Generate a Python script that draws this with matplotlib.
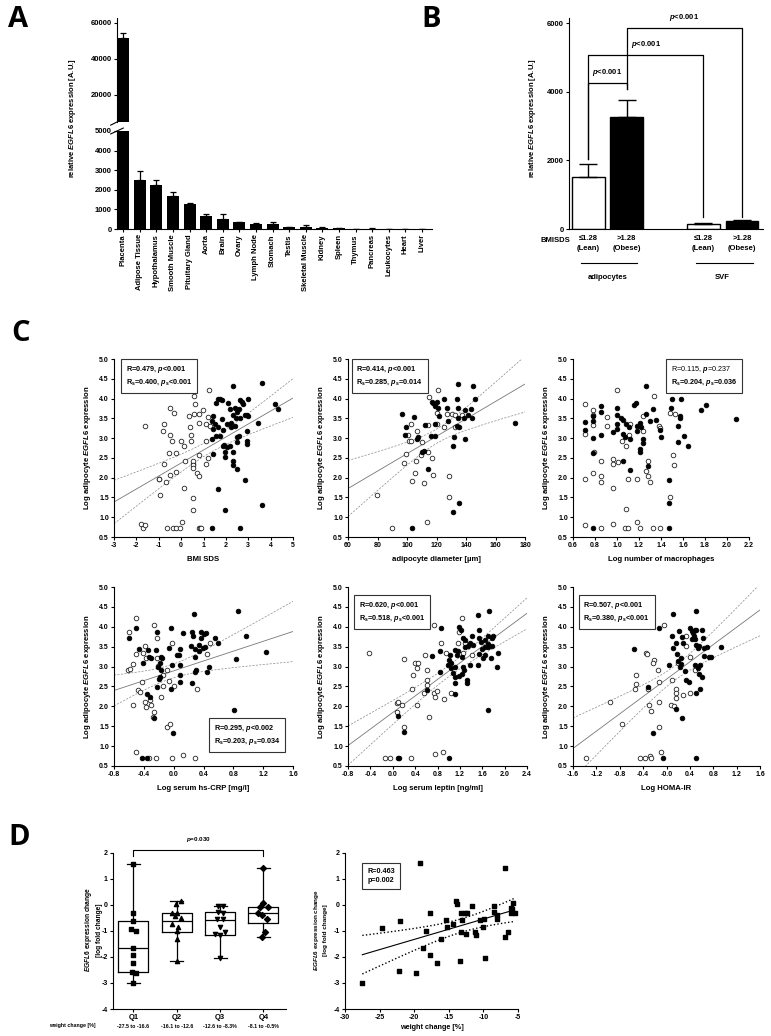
import numpy as np
import matplotlib
matplotlib.use("Agg")
import matplotlib.pyplot as plt
from matplotlib import transforms
from matplotlib.offsetbox import TextArea, VPacker, AnchoredOffsetbox

# ---------------- data ----------------
# A: tissue panel
tissues = ["Placenta", "Adipose Tissue", "Hypothalamus", "Smooth Muscle", "Pituitary Gland",
           "Aorta", "Brain", "Ovary", "Lymph Node", "Stomach", "Testis", "Skeletal Muscle",
           "Kidney", "Spleen", "Thymus", "Pancreas", "Leukocytes", "Heart", "Liver"]
tissue_expr = [51500, 2500, 2250, 1700, 1280, 680, 500, 340, 280, 230, 100, 100, 60, 30, 20, 20, 10, 5, 3]
tissue_err = [3000, 450, 250, 200, 30, 80, 280, 20, 20, 110, 10, 80, 20, 5, 5, 10, 3, 2, 1]

# B: adipocytes vs SVF
b_groups = ["adipocytes", "SVF"]
b_expr = [1520, 3270, 150, 220]
b_err = [380, 480, 30, 30]

# C: scatter plots (lean = open, obese = filled)
bmi_lean_x = [-1.63, -1.78, -1.70, -1.60, -0.78, -0.81, -0.76, -0.48, -0.33, -0.48, -0.39, -0.54, -1.01, -0.98,
              -0.96, -0.66, -0.48, -0.21, -0.25, 0.01, 0.13, 0.12, 0.06, 0.16, 0.51, 0.51, 0.54, 0.55, -0.63,
              -0.36, -0.21, -0.06, 0.34, 0.39, 0.42, 0.57, 0.64, 0.57, 0.81, 0.96, 0.79, 0.46, 0.81, 0.69, 0.81,
              0.51, 0.51, 0.80, 0.84, 0.90, 1.09, 1.09, 1.21, 1.18, 1.13, 1.25, 1.28]
bmi_lean_y = [3.31, 0.82, 0.72, 0.80, 3.35, 3.19, 2.35, 3.75, 3.63, 3.08, 2.93, 2.63, 1.97, 1.97, 1.55, 1.89,
              2.06, 2.14, 2.63, 2.93, 2.81, 1.75, 0.89, 2.41, 2.35, 2.43, 2.31, 2.25, 0.72, 0.72, 0.72, 0.72,
              3.56, 3.27, 3.08, 4.06, 3.87, 3.62, 3.60, 3.70, 3.39, 2.93, 2.58, 2.12, 2.03, 1.48, 1.18, 0.72,
              0.72, 0.72, 2.93, 2.35, 2.49, 3.54, 3.35, 4.21, 3.31]
bmi_obese_x = [2.33, 3.00, 3.45, 1.66, 1.73, 1.81, 1.58, 2.10, 2.18, 2.40, 2.63, 2.70, 2.75, 2.60, 2.50, 2.33,
               2.85, 2.96, 2.46, 2.63, 1.43, 1.36, 1.51, 1.43, 1.66, 1.85, 1.73, 1.58, 2.03, 2.21, 2.25, 2.40,
               1.81, 1.36, 1.85, 1.91, 2.03, 2.18, 1.96, 1.96, 2.30, 2.48, 2.51, 2.60, 2.93, 2.93, 2.93, 2.33,
               2.33, 2.51, 1.43, 1.66, 1.96, 2.85, 1.36, 2.63, 3.00, 3.60, 4.20, 4.32, 3.60]
bmi_obese_y = [4.33, 3.98, 3.39, 3.98, 4.00, 3.96, 3.88, 3.88, 3.73, 3.77, 3.96, 3.91, 3.85, 3.73, 3.65, 3.58,
               3.58, 3.58, 3.52, 3.52, 3.56, 3.44, 3.35, 3.23, 3.29, 3.21, 3.06, 3.06, 3.35, 3.39, 3.27, 3.31,
               3.48, 2.98, 2.81, 2.82, 2.77, 2.81, 2.64, 2.52, 2.66, 2.89, 3.02, 3.06, 2.93, 2.86, 3.19, 2.43,
               2.33, 2.22, 2.60, 1.72, 1.18, 1.93, 0.72, 0.72, 3.56, 4.40, 3.86, 3.73, 1.31]

diam_lean_x = [79.9, 89.6, 99.1, 98.0, 100.9, 101.4, 102.5, 102.7, 103.6, 105.4, 106.1, 107.0, 109.3, 109.9,
               111.5, 113.3, 114.0, 114.5, 114.9, 116.7, 117.9, 120.1, 120.6, 121.2, 125.1, 126.9, 130.3,
               132.5, 128.7, 128.5, 132.7, 137.1]
diam_lean_y = [1.57, 0.72, 2.60, 2.37, 3.08, 2.93, 2.92, 3.35, 1.91, 2.12, 2.43, 3.17, 2.58, 2.91, 1.87, 0.87,
               2.66, 3.34, 4.05, 2.50, 2.06, 3.63, 3.35, 4.21, 3.27, 3.62, 3.62, 3.58, 2.04, 1.51, 3.29, 3.58]
diam_obese_x = [96.8, 99.1, 98.6, 105.0, 107.2, 107.0, 103.2, 110.4, 111.8, 112.2, 114.5, 116.3, 119.0, 116.7,
                117.9, 119.0, 120.1, 121.2, 121.7, 119.2, 125.4, 127.0, 127.7, 131.4, 131.9, 131.0, 135.3,
                134.2, 134.5, 134.8, 134.8, 133.7, 135.3, 138.9, 139.3, 141.6, 139.6, 143.4, 144.3, 145.0,
                146.1, 173.0]
diam_obese_y = [3.60, 3.29, 3.08, 3.54, 3.02, 2.98, 0.72, 2.64, 2.68, 3.34, 2.22, 3.06, 3.06, 3.91, 3.88, 3.80,
                3.91, 3.75, 3.55, 3.35, 3.98, 3.75, 3.43, 2.81, 3.04, 1.14, 1.36, 4.00, 3.77, 4.38, 3.52, 3.31,
                3.29, 3.50, 3.71, 3.58, 2.99, 3.73, 3.50, 4.33, 3.98, 3.37]

macro_lean_x = [0.706, 0.78, 0.785, 0.78, 0.706, 0.79, 0.78, 0.706, 0.85, 0.85, 0.85, 0.91, 0.91, 0.96, 0.96,
                1.01, 0.96, 1.00, 1.045, 1.08, 1.11, 1.115, 1.08, 1.10, 1.18, 1.24, 1.24, 1.26, 1.28, 1.28,
                1.30, 1.34, 1.38, 1.39, 1.48, 1.53, 1.51, 1.52, 1.48, 0.706, 0.85, 0.96, 1.07, 1.10, 1.18,
                1.21, 1.33, 1.39]
macro_lean_y = [3.87, 3.71, 3.58, 3.34, 3.10, 2.64, 2.12, 1.97, 2.43, 2.03, 1.89, 3.54, 3.31, 2.47, 2.35, 2.39,
                1.75, 4.21, 2.92, 2.81, 3.08, 3.35, 1.20, 1.97, 1.97, 3.56, 3.17, 2.18, 2.42, 2.04, 1.89, 4.06,
                3.31, 3.25, 3.63, 3.60, 2.57, 2.33, 1.50, 0.80, 0.72, 0.82, 0.72, 0.72, 0.89, 0.72, 0.72, 0.72]
macro_obese_x = [0.706, 0.706, 0.78, 0.78, 0.78, 0.78, 0.85, 0.85, 0.85, 0.96, 1.00, 1.00, 1.00, 1.00, 1.04,
                 1.05, 1.05, 1.05, 1.07, 1.08, 1.11, 1.12, 1.12, 1.15, 1.17, 1.18, 1.18, 1.21, 1.22, 1.21, 1.21,
                 1.24, 1.24, 1.26, 1.28, 1.26, 1.30, 1.33, 1.35, 1.39, 1.40, 1.47, 1.47, 1.47, 1.49, 1.50, 1.55,
                 1.55, 1.57, 1.57, 1.58, 1.61, 1.65, 1.76, 1.81, 2.08, 0.78]
macro_obese_y = [3.41, 3.21, 3.55, 3.44, 3.00, 2.62, 3.80, 3.66, 3.08, 3.16, 3.75, 3.58, 3.35, 3.23, 3.52, 3.46,
                 2.43, 3.10, 3.04, 3.35, 3.27, 2.98, 2.20, 3.84, 3.88, 3.31, 3.19, 3.39, 3.27, 2.73, 2.66, 2.98,
                 2.88, 4.33, 2.30, 3.60, 3.44, 3.73, 3.46, 3.21, 3.02, 1.93, 1.35, 0.72, 3.75, 3.98, 2.89, 3.31,
                 3.56, 3.50, 3.98, 3.06, 2.81, 3.70, 3.84, 3.48, 0.72]

crp_lean_x = [-0.595, -0.61, -0.58, -0.54, -0.50, -0.50, -0.55, -0.48, -0.45, -0.43, -0.38, -0.37, -0.32, -0.30,
              -0.26, -0.28, -0.41, -0.38, -0.37, -0.26, -0.22, -0.23, -0.21, -0.17, -0.14, -0.14, -0.09, -0.09,
              -0.05, -0.06, 0.00, -0.02, 0.31, 0.49, 0.45, -0.50, -0.33, -0.24, -0.02, 0.12, 0.28]
crp_lean_y = [3.88, 2.92, 2.93, 3.07, 3.31, 4.22, 2.03, 2.41, 2.37, 2.62, 2.12, 1.99, 2.16, 2.03, 1.87, 1.74,
              3.34, 3.52, 3.21, 4.05, 3.71, 3.21, 3.02, 2.24, 2.50, 2.79, 2.92, 1.49, 1.55, 2.64, 2.50, 3.60,
              2.43, 3.60, 3.31, 0.85, 0.70, 0.70, 0.70, 0.78, 0.70]
crp_obese_x = [-0.595, -0.50, -0.46, -0.41, -0.35, -0.33, -0.30, -0.22, -0.24, -0.21, -0.18, -0.17, -0.16,
               -0.36, -0.32, -0.18, -0.19, -0.17, -0.23, -0.26, -0.04, -0.06, -0.02, -0.03, -0.01, 0.04, 0.07,
               0.09, 0.08, 0.08, 0.08, 0.13, 0.23, 0.25, 0.26, 0.25, 0.27, 0.29, 0.29, 0.30, 0.29, 0.34, 0.34,
               0.37, 0.37, 0.41, 0.44, 0.39, 0.42, 0.45, 0.48, 0.55, 0.59, 0.81, 0.84, 0.86, 0.97, 1.24, -0.42,
               -0.36]
crp_obese_y = [3.71, 3.97, 3.44, 3.08, 3.42, 3.25, 3.21, 3.88, 3.42, 3.00, 3.08, 3.25, 3.21, 2.30, 2.24, 2.75,
               2.68, 2.92, 2.48, 1.71, 3.98, 3.46, 3.04, 2.43, 1.34, 3.29, 3.29, 3.45, 3.04, 2.79, 2.60, 3.84,
               3.52, 3.88, 3.76, 2.58, 4.32, 3.44, 3.23, 2.92, 2.87, 3.55, 3.38, 3.71, 3.88, 3.82, 3.84, 3.46,
               3.50, 2.87, 3.00, 3.71, 3.59, 1.91, 3.18, 4.39, 3.76, 3.36, 0.70, 0.70]

lep_lean_x = [-0.42, 0.20, 0.08, 0.07, 0.10, 0.16, 0.21, 0.34, 0.37, 0.40, 0.44, 0.46, 0.44, 0.55, 0.58, 0.61,
              0.62, 0.64, 0.62, 0.73, 0.74, 0.76, 0.79, 0.86, 0.92, 0.96, 1.05, 1.18, 1.23, 1.17, 1.26, 1.29,
              1.41, -0.14, -0.05, 0.32, 0.76, 0.89]
lep_lean_y = [3.35, 3.18, 1.87, 2.09, 2.12, 2.03, 1.49, 2.43, 2.79, 3.08, 2.96, 3.08, 2.03, 2.33, 3.29, 2.54,
              2.92, 1.74, 2.67, 2.33, 4.05, 2.24, 2.39, 3.59, 2.18, 3.34, 2.33, 3.87, 4.22, 3.59, 3.34, 3.59,
              3.29, 0.70, 0.70, 0.70, 0.80, 0.86]
lep_obese_x = [0.10, 0.21, 0.62, 0.70, 0.84, 0.86, 0.84, 0.98, 1.01, 1.02, 1.05, 1.05, 1.07, 1.11, 1.14, 1.16,
               1.11, 1.11, 1.12, 1.11, 1.18, 1.22, 1.23, 1.26, 1.28, 1.23, 1.18, 1.26, 1.29, 1.29, 1.34, 1.38,
               1.41, 1.43, 1.33, 1.33, 1.38, 1.52, 1.52, 1.55, 1.57, 1.54, 1.59, 1.54, 1.62, 1.65, 1.65, 1.71,
               1.71, 1.71, 1.72, 1.77, 1.78, 1.80, 1.70, 1.65, 1.76, 1.86, 1.89, 0.09, 0.11, 1.01]
lep_obese_y = [1.76, 1.36, 2.41, 3.27, 2.87, 3.97, 3.38, 3.04, 3.17, 3.29, 3.10, 2.97, 2.85, 2.99, 3.29, 3.38,
               2.74, 2.58, 2.30, 3.42, 3.99, 3.92, 3.25, 3.00, 2.92, 2.82, 2.77, 3.71, 3.67, 3.49, 3.52, 3.59,
               3.77, 3.55, 2.65, 2.58, 3.04, 4.30, 3.04, 3.71, 3.61, 3.92, 3.44, 3.32, 3.21, 3.67, 3.50, 3.76,
               3.57, 3.50, 4.39, 3.71, 3.52, 3.76, 1.92, 3.29, 3.21, 3.00, 3.35, 0.70, 0.70, 0.70]

homa_lean_x = [-1.38, -0.96, -0.77, -0.54, -0.53, -0.53, -0.35, -0.33, -0.32, -0.30, -0.26, -0.22, -0.23, -0.15,
               -0.13, -0.13, -0.13, -0.26, -0.05, 0.10, 0.08, 0.13, 0.17, 0.17, 0.17, 0.20, 0.29, 0.34, 0.34,
               0.40, 0.40, 0.48, -0.46, -0.37, -0.29, -0.26, -0.09]
homa_lean_y = [0.71, 2.12, 1.55, 2.43, 2.56, 2.79, 3.35, 3.32, 2.43, 2.03, 1.88, 3.17, 3.10, 2.92, 2.60, 1.49,
               2.12, 4.22, 4.05, 2.65, 2.03, 2.00, 2.43, 2.33, 2.20, 3.10, 2.28, 3.76, 3.52, 3.25, 2.34, 2.92,
               0.69, 0.69, 0.75, 0.69, 0.86]
homa_obese_x = [-0.56, -0.32, -0.13, -0.23, -0.06, 0.04, 0.09, 0.11, 0.11, 0.17, 0.18, 0.20, 0.21, 0.24, 0.25,
                0.23, 0.17, 0.27, 0.27, 0.28, 0.31, 0.34, 0.38, 0.40, 0.43, 0.45, 0.48, 0.51, 0.43, 0.47, 0.48,
                0.51, 0.50, 0.54, 0.56, 0.48, 0.54, 0.56, 0.60, 0.57, 0.51, 0.57, 0.61, 0.62, 0.64, 0.65, 0.70,
                0.73, 0.77, 0.94, 0.50]
homa_obese_y = [3.45, 2.48, 3.98, 1.34, 0.69, 3.03, 3.77, 4.33, 3.46, 3.59, 3.32, 3.14, 3.90, 3.21, 3.07, 2.98,
                1.93, 1.71, 3.74, 3.59, 2.90, 2.66, 2.60, 3.97, 3.90, 3.84, 3.92, 3.91, 3.69, 3.77, 3.69, 3.55,
                4.40, 3.46, 3.52, 3.04, 2.96, 2.82, 2.75, 3.04, 2.33, 2.43, 3.91, 3.71, 3.27, 3.46, 3.49, 3.23,
                3.23, 3.50, 0.69]

# D: weight loss
quartiles = ["Q1", "Q2", "Q3", "Q4"]
quartile_ranges = ["-27.5 to -16.6", "-16.1 to -12.6", "-12.6 to -8.3%", "-8.1 to -0.5%"]
q_points = [
    [1.55, -0.32, -0.63, -0.92, -1.02, -1.67, -1.93, -2.25, -2.57, -2.62, -3.0],
    [0.14, 0.03, -0.33, -0.31, -0.44, -0.50, -0.72, -0.85, -1.0, -1.33, -2.17],
    [-0.04, -0.04, -0.27, -0.31, -0.53, -0.56, -0.85, -1.13, -1.17, -1.06, -2.06],
    [1.42, 0.08, -0.10, -0.10, -0.31, -0.40, -0.56, -1.04, -1.23],
]
q_jitter = [
    [0, 0, 0, -0.05, 0.06, 0, 0, 0, -0.04, 0.06, 0],
    [0.09, -0.01, -0.12, 0.0, -0.05, 0.09, -0.1, 0.02, 0.0, 0.0, 0.0],
    [-0.05, 0.07, -0.04, 0.07, -0.08, 0.06, 0.0, -0.12, 0.0, 0.12, 0.0],
    [0, 0, -0.09, 0.11, -0.12, -0.04, 0.08, 0.04, -0.04],
]
q_stats = [  # whislo, q1, med, q3, whishi
    (-3.0, -2.58, -1.65, -0.63, 1.55),
    (-2.17, -1.06, -0.62, -0.31, 0.14),
    (-2.06, -1.17, -0.58, -0.28, -0.04),
    (-1.23, -0.70, -0.30, -0.07, 1.42),
]
q_markers = ["s", "^", "v", "D"]
wt_change = [-27.5, -24.7, -22.0, -22.2, -19.8, -19.1, -18.8, -18.3, -17.7, -17.7, -16.7, -16.15, -15.4, -15.3,
             -14.4, -14.0, -13.8, -13.4, -13.3, -13.3, -13.1, -12.7, -12.4, -12.5, -11.6, -11.15, -11.0, -10.5,
             -9.95, -10.05, -9.7, -8.4, -8.4, -8.1, -8.0, -6.9, -6.9, -6.5, -6.05, -5.8, -5.7, -5.95, -5.5]
expr_change = [-3.0, -0.9, -0.63, -2.55, -2.62, 1.59, -1.65, -1.0, -0.31, -1.91, -2.23, -1.33, -0.59, -0.85,
               -0.74, 0.14, 0.03, -2.15, -0.33, -1.04, -0.59, -0.31, -0.33, -1.14, -0.05, -1.04, -1.17, -0.59,
               -0.53, -0.85, -2.06, -0.04, -0.28, -0.53, -0.41, 1.4, -1.23, -1.04, -0.12, -0.17, 0.06, -0.3, -0.3]

# ---------------- style ----------------
plt.rcParams.update({
    "font.family": ["Liberation Sans", "DejaVu Sans"],
    "font.weight": "bold",
    "axes.labelweight": "bold",
    "axes.unicode_minus": False,
    "mathtext.fontset": "custom",
    "mathtext.rm": "Liberation Sans:bold",
    "mathtext.bf": "Liberation Sans:bold",
    "mathtext.it": "Liberation Sans:italic:bold",
    "mathtext.sf": "Liberation Sans:italic",
    "axes.linewidth": 0.8,
    "xtick.major.width": 0.8, "ytick.major.width": 0.8,
    "xtick.major.size": 2.2, "ytick.major.size": 2.2,
    "xtick.major.pad": 1.5, "ytick.major.pad": 1.5,
    "xtick.labelsize": 5, "ytick.labelsize": 5,
})

W, H = 771, 1036
fig = plt.figure(figsize=(W / 100, H / 100), dpi=100)


def add_ax(l, t, r, b):
    ax = fig.add_axes([l / W, 1 - b / H, (r - l) / W, (b - t) / H])
    ax.spines[["top", "right"]].set_visible(False)
    return ax


def fy(py):
    return 1 - py / H


for letter, px, py in [("A", 8, 27), ("B", 421, 27), ("C", 11, 341), ("D", 8, 845)]:
    fig.text(px / W, fy(py), letter, fontsize=21, fontweight="bold", family="Open Sans", va="baseline")

# ---------------- panel A ----------------
xa = np.arange(len(tissues))
ax_top = add_ax(117, 18, 432, 122)
ax_bot = add_ax(117, 131, 432, 229)
for ax in (ax_top, ax_bot):
    ax.bar(xa, tissue_expr, width=0.72, color="black")
    ax.errorbar(xa, tissue_expr, yerr=[np.zeros(len(xa)), tissue_err], fmt="none", ecolor="black",
                elinewidth=0.9, capsize=2.2, capthick=0.9)
    ax.set_xlim(-0.37, 18.6)
ax_top.set_ylim(5000, 62700)
ax_top.set_yticks([20000, 40000, 60000])
ax_top.spines["bottom"].set_visible(False)
ax_top.set_xticks([])
ax_bot.set_ylim(0, 5000)
ax_bot.set_yticks(range(0, 5001, 1000))
ax_bot.set_xticks(xa)
ax_bot.set_xticklabels(tissues, rotation=90, fontsize=5.5)
for ax in (ax_top, ax_bot):
    ax.tick_params(labelsize=5.5)
d = 0.02
ax_top.plot([-d, d], [-0.03, 0.03], transform=ax_top.transAxes, color="black", lw=0.8, clip_on=False)
ax_bot.plot([-d, d], [0.97, 1.03], transform=ax_bot.transAxes, color="black", lw=0.8, clip_on=False)
fig.text(72 / W, fy(118), r"relative $\mathit{EGFL6}$ expression [A.U.]", rotation=90,
         fontsize=5.5, ha="center", va="center")

# ---------------- panel B ----------------
ax_b = add_ax(569, 18, 763, 229)
xb = [0, 1, 3, 4]
ax_b.bar(xb, b_expr, width=0.85, color=["white", "black", "white", "black"], edgecolor="black", linewidth=1.0)
ax_b.errorbar(xb, b_expr, yerr=[np.zeros(4), b_err], fmt="none", ecolor="black", elinewidth=1.0,
              capsize=6.5, capthick=1.0)
ax_b.set_xlim(-0.5, 4.55)
ax_b.set_ylim(0, 6150)
ax_b.set_yticks([0, 2000, 4000, 6000])
ax_b.set_xticks([])
ax_b.tick_params(labelsize=5.5)
fig.text(532 / W, fy(118), r"relative $\mathit{EGFL6}$ expression [A.U.]", rotation=90,
         fontsize=5.5, ha="center", va="center")
brackets = [(0, 1, 2050, 4260, 4080, r"$p$<0.001"),
            (0, 3, 2050, 5070, 350, r"$p$<0.001"),
            (1, 4, 4080, 5860, 350, r"$p$<0.001")]
for x0, x1, y0, ytop, y1, lab in brackets:
    ax_b.plot([x0, x0, x1, x1], [y0, ytop, ytop, y1], color="black", lw=0.9, clip_on=False)
    ax_b.text((x0 + x1) / 2, ytop + 150, lab, ha="center", va="bottom", fontsize=5.5)
tb = transforms.blended_transform_factory(ax_b.transData, fig.transFigure)
fig.text(570 / W, fy(241), "BMISDS", ha="right", va="center", fontsize=5.5)
for xi, lab in zip(xb, ["≤1.28\n(Lean)", ">1.28\n(Obese)", "≤1.28\n(Lean)", ">1.28\n(Obese)"]):
    ax_b.text(xi, fy(235), lab, transform=tb, ha="center", va="top", fontsize=5.5, linespacing=1.5)
for (x0, x1), lab in zip([(0, 1), (3, 4)], b_groups):
    ax_b.plot([x0 - 0.2, x1 + 0.28], [fy(263)] * 2, transform=tb, color="black", lw=0.8, clip_on=False)
    ax_b.text((x0 + x1) / 2, fy(277), lab, transform=tb, ha="center", va="center", fontsize=5.5)

# ---------------- panel C ----------------
def fit_band(x, y, xs, t):
    x = np.asarray(x)
    y = np.asarray(y)
    slope, icpt = np.polyfit(x, y, 1)
    yhat = icpt + slope * xs
    s = np.sqrt(np.sum((y - (icpt + slope * x)) ** 2) / (len(x) - 2))
    se = s * np.sqrt(1 / len(x) + (xs - x.mean()) ** 2 / np.sum((x - x.mean()) ** 2))
    return yhat, yhat - t * se, yhat + t * se


def stat_box(ax, lines, weights, loc, anchor):
    areas = [TextArea(t, textprops=dict(fontsize=5.2, fontweight=w)) for t, w in zip(lines, weights)]
    pack = VPacker(children=areas, align="left", pad=0, sep=1.6)
    box = AnchoredOffsetbox(loc=loc, child=pack, pad=0.35, borderpad=0, frameon=True,
                            bbox_to_anchor=anchor, bbox_transform=ax.transAxes)
    box.patch.set_linewidth(0.8)
    box.patch.set_edgecolor("#333333")
    box.patch.set_boxstyle("square,pad=0")
    ax.add_artist(box)


c_panels = [
    dict(box=(114, 359, 293, 537), lean=(bmi_lean_x, bmi_lean_y), obese=(bmi_obese_x, bmi_obese_y),
         xlim=(-3, 5), xt=np.arange(-3, 5.1, 1), fmt="%d", xlabel="BMI SDS", fit=True,
         stats=[r"R=0.479, $p$<0.001", r"R$_\mathrm{s}$=0.400, $p_\mathrm{s}$<0.001"], w=["bold", "bold"],
         loc="upper left", anchor=(0.04, 1.0)),
    dict(box=(348, 359, 525, 537), lean=(diam_lean_x, diam_lean_y), obese=(diam_obese_x, diam_obese_y),
         xlim=(60, 180), xt=np.arange(60, 181, 20), fmt="%d", xlabel="adipocyte diameter [µm]", fit=True,
         stats=[r"R=0.414, $p$<0.001", r"R$_\mathrm{s}$=0.285, $p_\mathrm{s}$=0.014"], w=["bold", "bold"],
         loc="upper left", anchor=(0.02, 1.0)),
    dict(box=(573, 359, 749, 537), lean=(macro_lean_x, macro_lean_y), obese=(macro_obese_x, macro_obese_y),
         xlim=(0.6, 2.2), xt=np.arange(0.6, 2.21, 0.2), fmt="%.1f", xlabel="Log number of macrophages",
         fit=False,
         stats=[r"R=0.115, $\mathsf{p}$=0.237", r"R$_\mathrm{s}$=0.204, $p_\mathrm{s}$=0.036"],
         w=["normal", "bold"], loc="upper right", anchor=(0.96, 1.0)),
    dict(box=(114, 587, 293, 766), lean=(crp_lean_x, crp_lean_y), obese=(crp_obese_x, crp_obese_y),
         xlim=(-0.8, 1.6), xt=np.arange(-0.8, 1.61, 0.4), fmt="%.1f", xlabel="Log serum hs-CRP [mg/l]",
         fit=True,
         stats=[r"R=0.295, $p$<0.002", r"R$_\mathrm{s}$=0.203, $p_\mathrm{s}$=0.034"], w=["bold", "bold"],
         loc="lower right", anchor=(0.955, 0.078)),
    dict(box=(348, 587, 527, 766), lean=(lep_lean_x, lep_lean_y), obese=(lep_obese_x, lep_obese_y),
         xlim=(-0.8, 2.4), xt=np.arange(-0.8, 2.41, 0.4), fmt="%.1f", xlabel="Log serum leptin [ng/ml]",
         fit=True,
         stats=[r"R=0.620, $p$<0.001", r"R$_\mathrm{s}$=0.518, $p_\mathrm{s}$<0.001"], w=["bold", "bold"],
         loc="upper left", anchor=(0.035, 0.955)),
    dict(box=(573, 587, 760, 766), lean=(homa_lean_x, homa_lean_y), obese=(homa_obese_x, homa_obese_y),
         xlim=(-1.6, 1.6), xt=np.arange(-1.6, 1.61, 0.4), fmt="%.1f", xlabel="Log HOMA-IR", fit=True,
         stats=[r"R=0.507, $p$<0.001", r"R$_\mathrm{s}$=0.380, $p_\mathrm{s}$<0.001"], w=["bold", "bold"],
         loc="upper left", anchor=(0.03, 0.955)),
]

for p in c_panels:
    ax = add_ax(*p["box"])
    lx, ly = p["lean"]
    ox, oy = p["obese"]
    if p["fit"]:
        xs = np.linspace(p["xlim"][0], p["xlim"][1], 200)
        yhat, lo, hi = fit_band(lx + ox, ly + oy, xs, 1.98)
        ax.plot(xs, yhat, color="#777777", lw=0.6, zorder=1)
        ax.plot(xs, lo, color="#888888", lw=0.5, ls=(0, (3, 2)), zorder=1)
        ax.plot(xs, hi, color="#888888", lw=0.5, ls=(0, (3, 2)), zorder=1)
    ax.scatter(lx, ly, s=11, facecolor="white", edgecolor="#222222", linewidth=0.6, zorder=2)
    ax.scatter(ox, oy, s=11, facecolor="black", edgecolor="black", linewidth=0.6, zorder=3)
    ax.set_xlim(*p["xlim"])
    ax.set_ylim(0.5, 5.0)
    ax.set_xticks(p["xt"])
    ax.set_yticks(np.arange(0.5, 5.01, 0.5))
    ax.xaxis.set_major_formatter(plt.FormatStrFormatter(p["fmt"]))
    ax.yaxis.set_major_formatter(plt.FormatStrFormatter("%.1f"))
    ax.set_xlabel(p["xlabel"], fontsize=5.6, labelpad=5)
    ax.set_ylabel(r"Log adipocyte $\mathit{EGFL6}$ expression", fontsize=5.6, labelpad=4)
    stat_box(ax, p["stats"], p["w"], p["loc"], p["anchor"])

# ---------------- panel D ----------------
ax_d = add_ax(113, 852.7, 286, 1009)
stats = [dict(whislo=s[0], q1=s[1], med=s[2], q3=s[3], whishi=s[4], fliers=[]) for s in q_stats]
ax_d.bxp(stats, positions=range(4), widths=0.69, showfliers=False, capwidths=0.3,
         boxprops=dict(lw=0.9), whiskerprops=dict(lw=0.9), capprops=dict(lw=0.9),
         medianprops=dict(color="black", lw=0.9))
for i, (pts, jit, mk) in enumerate(zip(q_points, q_jitter, q_markers)):
    ax_d.scatter(np.array(jit) + i, pts, marker=mk, s=9, color="black", zorder=3)
ax_d.set_xlim(-0.47, 3.52)
ax_d.set_ylim(-4, 2)
ax_d.set_yticks(range(-4, 3))
ax_d.set_xticks(range(4))
ax_d.set_xticklabels(quartiles, fontsize=5.5)
ax_d.tick_params(axis="y", labelsize=5)
ax_d.plot([0, 0, 3, 3], [1.87, 2.1, 2.1, 1.87], color="black", lw=0.8, clip_on=False)
ax_d.text(1.5, 2.35, r"$p$=0.030", ha="center", va="bottom", fontsize=4.5)
td = transforms.blended_transform_factory(ax_d.transData, fig.transFigure)
for i, lab in enumerate(quartile_ranges):
    ax_d.text(i, fy(1026), lab, transform=td, ha="center", va="center", fontsize=3.8)
fig.text(72 / W, fy(1026), "weight change [%]", ha="center", va="center", fontsize=3.8)
fig.text(93 / W, fy(930), "$\\mathit{EGFL6}$ expression change\n[log fold change]", rotation=90,
         ha="center", va="center", fontsize=4.8, linespacing=1.4)

ax_r = add_ax(345, 852.7, 518, 1009)
xs = np.linspace(min(wt_change), max(wt_change), 100)
yhat, lo, hi = fit_band(wt_change, expr_change, xs, 2.02)
ax_r.plot(xs, yhat, color="black", lw=0.8)
ax_r.plot(xs, lo, color="black", lw=1.0, ls=(0, (1, 1.6)))
ax_r.plot(xs, hi, color="black", lw=1.0, ls=(0, (1, 1.6)))
ax_r.scatter(wt_change, expr_change, marker="s", s=9, color="black", zorder=3)
ax_r.set_xlim(-30, -5)
ax_r.set_ylim(-4, 2)
ax_r.set_xticks(range(-30, -4, 5))
ax_r.set_yticks(range(-4, 3))
ax_r.tick_params(labelsize=5)
ax_r.set_xlabel("weight change [%]", fontsize=5.2, labelpad=2)
fig.text(320 / W, fy(930), "$\\mathit{EGFL6}$ expression change\n[log fold change]", rotation=90,
         ha="center", va="center", fontsize=4.6, linespacing=1.4)
stat_box(ax_r, ["R=0.463", "p=0.002"], ["bold", "bold"], "upper left", (0.1, 0.934))

fig.savefig("out.png", dpi=100)
